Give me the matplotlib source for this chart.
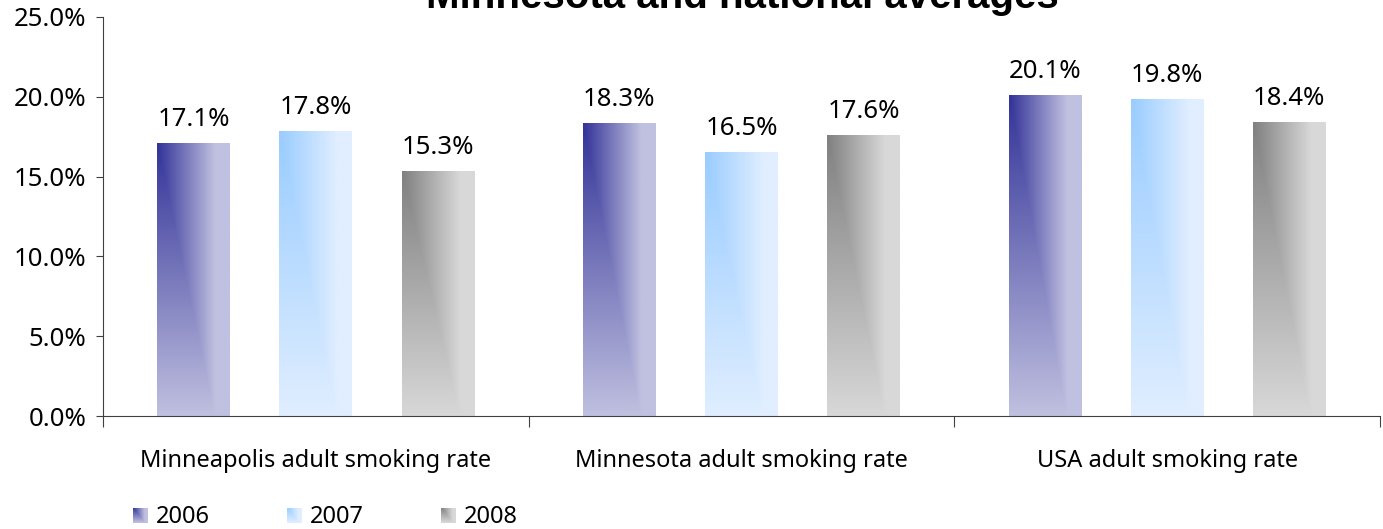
import numpy as np
import matplotlib
matplotlib.use("Agg")
import matplotlib.pyplot as plt
from matplotlib.colors import to_rgb

plt.rcParams['font.family'] = ['Noto Sans', 'DejaVu Sans']

categories = ["Minneapolis adult smoking rate", "Minnesota adult smoking rate", "USA adult smoking rate"]
series_names = ["2006", "2007", "2008"]
rate_2006 = [17.1, 18.3, 20.1]
rate_2007 = [17.8, 16.5, 19.8]
rate_2008 = [15.3, 17.6, 18.4]
series_values = [rate_2006, rate_2007, rate_2008]
yticks = [0, 5, 10, 15, 20, 25]
title = "Minnesota and national averages"

# (dark corner, light fill) for each series
palettes = [("#333399", "#C0C0E0"), ("#99CCFF", "#E0EEFF"), ("#808080", "#D8D8D8")]


def gradient(dark, light, nx=60, ny=200):
    x = np.linspace(0, 1, nx)[None, :]
    y = np.linspace(0, 1, ny)[:, None]
    f = np.minimum(np.clip(1 - x / 0.8, 0, 1), np.clip(1 - y, 0, 1))
    d = np.array(to_rgb(dark))
    l = np.array(to_rgb(light))
    return l[None, None, :] + f[..., None] * (d - l)[None, None, :]


W, H = 1383, 529
fig = plt.figure(figsize=(W / 100, H / 100), dpi=100)
ax = fig.add_axes([103 / W, 1 - 416 / H, (1380 - 103) / W, (416 - 17) / H])

n = len(series_names)
x = np.arange(len(categories))
width = 0.171
step = 0.287
for i, (vals, (dark, light)) in enumerate(zip(series_values, palettes)):
    pos = x + (i - (n - 1) / 2) * step
    bars = ax.bar(pos, vals, width, color="none", edgecolor="none")
    img = gradient(dark, light)
    for rect, v in zip(bars, vals):
        x0 = rect.get_x()
        ax.imshow(img, extent=[x0, x0 + rect.get_width(), 0, v],
                  aspect="auto", interpolation="bilinear", zorder=2)
        ax.text(rect.get_x() + rect.get_width() / 2, v + 1.1, f"{v:.1f}%",
                ha="center", va="baseline", fontsize=18.5, color="#000000")

ax.set_xlim(-0.5, len(categories) - 0.5)
ax.set_ylim(0, 25)
ax.set_yticks(yticks)
ax.set_yticklabels([f"{t:.1f}%" for t in yticks], fontsize=18.5)
ax.set_xticks(np.arange(len(categories) + 1) - 0.5)
ax.set_xticklabels([])
ax.set_xticks(x, minor=True)
ax.set_xticklabels(categories, minor=True, fontsize=17)
ax.tick_params(axis="x", which="major", direction="out", length=8, color="#404040")
ax.tick_params(axis="x", which="minor", length=0, pad=24)
ax.tick_params(axis="y", direction="out", length=5, color="#404040", pad=7)
for s in ("top", "right"):
    ax.spines[s].set_visible(False)
for s in ("left", "bottom"):
    ax.spines[s].set_color("#404040")

fig.text(742 / W, 1 - 8 / H, title, ha="center", va="baseline",
         fontsize=29, fontweight="bold", family=["Liberation Sans", "DejaVu Sans"])

# legend row under the chart
for i, (name, (dark, light)) in enumerate(zip(series_names, palettes)):
    lx = 133 + i * 154
    lax = fig.add_axes([lx / W, 1 - 523 / H, 15 / W, 15 / H])
    lax.imshow(gradient(dark, light, 20, 20), aspect="auto", interpolation="bilinear")
    lax.axis("off")
    fig.text((lx + 23) / W, 1 - 517 / H, name, ha="left", va="center", fontsize=17)

fig.savefig("out.png", dpi=100)
